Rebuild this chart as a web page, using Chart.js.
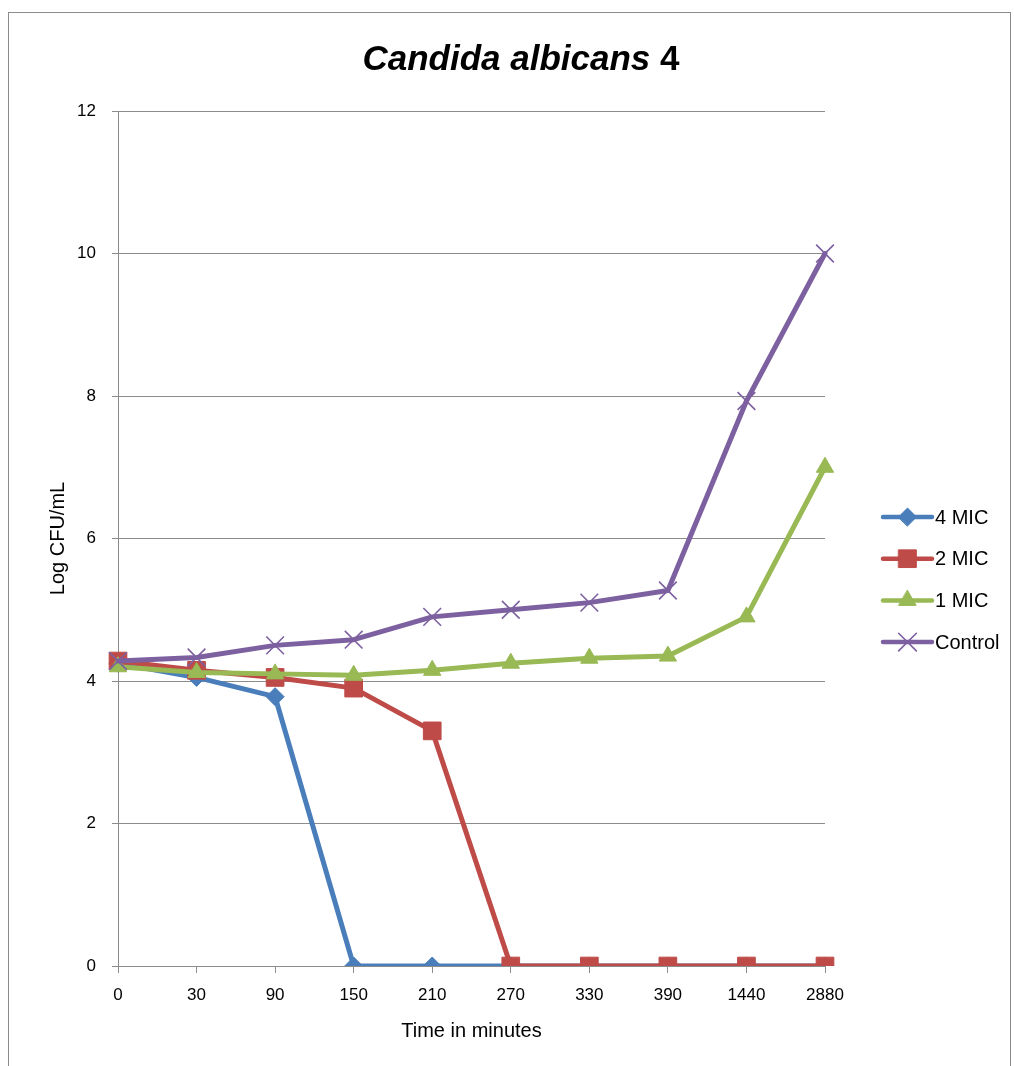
<!DOCTYPE html>
<html>
<head>
<meta charset="utf-8">
<script src="https://cdn.jsdelivr.net/npm/chart.js@4/dist/chart.umd.min.js"></script>
<style>
  body { margin: 0; background: #fff; }
  #wrap { position: relative; width: 1014px; height: 1066px; overflow: hidden; }
  #frame { position: absolute; left: 8px; top: 12px; width: 1001px; height: 1100px; border: 1px solid #8c8c8c; }
  #chart { position: absolute; left: 0; top: 0; }
</style>
</head>
<body>
<div id="wrap">
  <div id="frame"></div>
  <canvas id="chart" width="1014" height="1066"></canvas>
</div>
<script>
// Time points (minutes) used as categories
const timeLabels = ['0', '30', '90', '150', '210', '270', '330', '390', '1440', '2880'];

// Log CFU/mL
const mic4 = [4.25, 4.05, 3.78, 0, 0, 0, 0, 0, 0, 0];
const mic2 = [4.28, 4.15, 4.05, 3.9, 3.3, 0, 0, 0, 0, 0];
const mic1 = [4.2, 4.12, 4.1, 4.08, 4.15, 4.25, 4.32, 4.35, 4.9, 7.0];
const control = [4.28, 4.33, 4.5, 4.58, 4.9, 5.0, 5.1, 5.27, 7.93, 10.0];

const seriesNames = ['4 MIC', '2 MIC', '1 MIC', 'Control'];
const seriesColors = ['#4a7ebb', '#be4b48', '#98b954', '#7d60a0'];

const gridGray = '#8c8c8c';
const font = 'Liberation Sans, Arial, sans-serif';

function makeSet(i, data, style, radius, pbw, order) {
  return {
    label: seriesNames[i],
    data: data,
    borderColor: seriesColors[i],
    backgroundColor: seriesColors[i],
    borderWidth: 5,
    borderJoinStyle: 'round',
    borderCapStyle: 'round',
    pointStyle: style,
    pointRadius: radius,
    pointHoverRadius: radius,
    pointBorderWidth: pbw,
    pointBackgroundColor: seriesColors[i],
    pointBorderColor: seriesColors[i],
    tension: 0,
    order: order
  };
}

// Title: italic species name, upright number
const titlePlugin = {
  id: 'mixedTitle',
  afterDraw(chart) {
    const ctx = chart.ctx;
    const a = 'Candida albicans ';
    const b = '4';
    ctx.save();
    ctx.fillStyle = '#000';
    ctx.textBaseline = 'middle';
    ctx.font = 'italic bold 35px ' + font;
    const wa = ctx.measureText(a).width;
    ctx.font = 'bold 35px ' + font;
    const wb = ctx.measureText(b).width;
    let x = 521 - (wa + wb) / 2;
    ctx.textAlign = 'left';
    ctx.font = 'italic bold 35px ' + font;
    ctx.fillText(a, x, 60);
    ctx.font = 'bold 35px ' + font;
    ctx.fillText(b, x + wa, 60);
    ctx.restore();
  }
};

// Excel-style legend: line with marker
const legendPlugin = {
  id: 'lineLegend',
  afterDraw(chart) {
    const ctx = chart.ctx;
    const x0 = 883, x1 = 932, y0 = 517, step = 41.7;
    chart.data.datasets.forEach((ds, i) => {
      const y = y0 + i * step;
      ctx.save();
      ctx.strokeStyle = ds.borderColor;
      ctx.lineWidth = 4.5;
      ctx.lineCap = 'round';
      ctx.beginPath();
      ctx.moveTo(x0, y);
      ctx.lineTo(x1, y);
      ctx.stroke();
      ctx.fillStyle = ds.pointBackgroundColor;
      ctx.strokeStyle = ds.pointBorderColor;
      ctx.lineWidth = ds.pointBorderWidth;
      Chart.helpers.drawPoint(ctx, { pointStyle: ds.pointStyle, radius: ds.pointRadius, rotation: 0, borderWidth: ds.pointBorderWidth }, (x0 + x1) / 2, y);
      ctx.fillStyle = '#000';
      ctx.font = '20px ' + font;
      ctx.textBaseline = 'middle';
      ctx.textAlign = 'left';
      ctx.fillText(ds.label, 935, y + 1);
      ctx.restore();
    });
  }
};

new Chart(document.getElementById('chart'), {
  type: 'line',
  data: {
    labels: timeLabels,
    datasets: [
      makeSet(0, mic4, 'rectRot', 9, 1, 4),
      makeSet(1, mic2, 'rect', 12.5, 1, 3),
      makeSet(2, mic1, 'triangle', 10, 1, 2),
      makeSet(3, control, 'crossRot', 12.5, 1.6, 1)
    ]
  },
  options: {
    responsive: false,
    animation: false,
    layout: { padding: { left: 0, top: 111, right: 189, bottom: 0 } },
    plugins: {
      legend: { display: false },
      title: { display: false },
      tooltip: { enabled: false }
    },
    scales: {
      x: {
        offset: false,
        grid: { display: true, drawOnChartArea: false, drawTicks: true, tickLength: 7, color: gridGray, lineWidth: 1 },
        border: { display: true, color: gridGray, width: 1 },
        ticks: { color: '#000', font: { family: font, size: 17 }, padding: 12, maxRotation: 0, autoSkip: false },
        title: { display: true, text: 'Time in minutes', color: '#000', font: { family: font, size: 20 }, padding: { top: 0, bottom: 23 } },
        afterFit(scale) { scale.height = 100; }
      },
      y: {
        min: 0,
        max: 12,
        ticks: { stepSize: 2, color: '#000', font: { family: font, size: 17 }, padding: 16 },
        grid: { color: gridGray, lineWidth: 1, drawTicks: true, tickLength: 6 },
        border: { display: true, color: gridGray, width: 1 },
        title: { display: true, text: 'Log CFU/mL', color: '#000', font: { family: font, size: 20 }, padding: { top: 46, bottom: 0 } },
        afterFit(scale) { scale.width = 118; }
      }
    }
  },
  plugins: [titlePlugin, legendPlugin]
});
</script>
</body>
</html>
